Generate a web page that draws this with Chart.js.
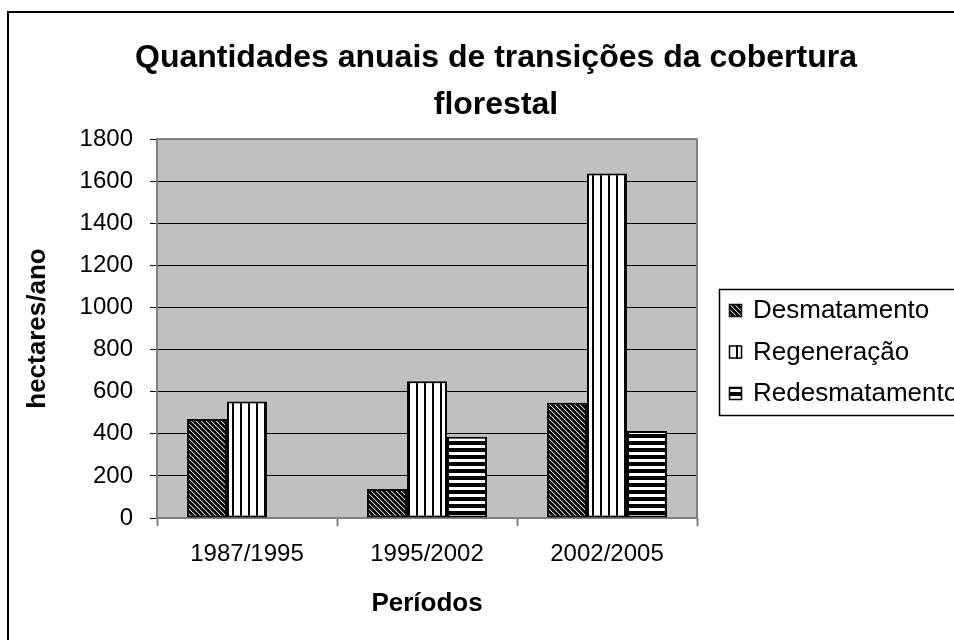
<!DOCTYPE html>
<html>
<head>
<meta charset="utf-8">
<script src="https://cdn.jsdelivr.net/npm/chart.js@4.4.1/dist/chart.umd.min.js"></script>
<style>
  html, body { margin: 0; padding: 0; overflow: hidden; background: #fff; }
  #frame { position: absolute; left: 7px; top: 11px; width: 1100px; height: 800px; border: 2px solid #000; }
  #chart { position: absolute; left: 0; top: 0; }
</style>
</head>
<body>
<div id="frame"></div>
<canvas id="chart" width="992" height="640"></canvas>
<script>
// data
const periodos = ["1987/1995", "1995/2002", "2002/2005"];
const desmatamento = [470, 138, 548];
const regeneracao = [553, 650, 1637];
const redesmatamento = [null, 386, 413];
const yMin = 0, yMax = 1800, yStep = 200;

Chart.defaults.font.family = '"Liberation Sans", Arial, sans-serif';

// pattern helper
function makePattern(w, h, draw) {
  const c = document.createElement("canvas");
  c.width = w;
  c.height = h;
  const g = c.getContext("2d");
  draw(g, w, h);
  return g.createPattern(c, "repeat");
}

// black with light "\" stripes
const hatchDiag = makePattern(5, 5, (g, w, h) => {
  g.fillStyle = "#000";
  g.fillRect(0, 0, w, h);
  for (let x = 0; x < w; x++) {
    for (let y = 0; y < h; y++) {
      const d = (x - y + 10) % 5;
      if (d === 0) { g.fillStyle = "#d8d8d8"; g.fillRect(x, y, 1, 1); }
      if (d === 1) { g.fillStyle = "#404040"; g.fillRect(x, y, 1, 1); }
    }
  }
});

// white with vertical black lines
const hatchVert = makePattern(8, 8, (g, w, h) => {
  g.fillStyle = "#fff";
  g.fillRect(0, 0, w, h);
  g.fillStyle = "#000";
  g.fillRect(0, 0, 2, h);
});

// white with horizontal black lines
const hatchHoriz = makePattern(7, 7, (g, w, h) => {
  g.fillStyle = "#fff";
  g.fillRect(0, 0, w, h);
  g.fillStyle = "#000";
  g.fillRect(0, 0, w, 4);
});

// gray plot background + gray frame
const plotArea = {
  id: "plotArea",
  beforeDraw(chart) {
    const a = chart.chartArea;
    const ctx = chart.ctx;
    ctx.save();
    ctx.fillStyle = "#c0c0c0";
    ctx.fillRect(a.left, a.top, a.right - a.left, a.bottom - a.top);
    ctx.restore();
  },
  beforeDatasetsDraw(chart) {
    const a = chart.chartArea;
    const ctx = chart.ctx;
    ctx.save();
    ctx.strokeStyle = "#808080";
    ctx.lineWidth = 2;
    ctx.strokeRect(a.left, a.top, a.right - a.left, a.bottom - a.top);
    ctx.restore();
  }
};

// Excel-like boxed legend on the right
const boxLegend = {
  id: "boxLegend",
  afterDraw(chart) {
    const ctx = chart.ctx;
    const x0 = 719, y0 = 289, rowH = 41.5;
    ctx.save();
    ctx.strokeStyle = "#000";
    ctx.lineWidth = 1.5;
    ctx.strokeRect(x0 + 0.5, y0 + 0.5, 400, 126);
    ctx.font = '26px "Liberation Sans", Arial, sans-serif';
    ctx.textBaseline = "middle";
    chart.data.datasets.forEach((ds, i) => {
      const y = y0 + 21 + i * rowH;
      ctx.fillStyle = ds.backgroundColor;
      ctx.fillRect(x0 + 10, y - 6, 13, 13);
      ctx.strokeStyle = "#000";
      ctx.lineWidth = 1.5;
      ctx.strokeRect(x0 + 10.5, y - 5.5, 12, 12);
      ctx.fillStyle = "#000";
      ctx.fillText(ds.label, x0 + 34, y + 1);
    });
    ctx.restore();
  }
};

const barStyle = {
  borderColor: "#000",
  borderWidth: 2,
  borderSkipped: false,
  categoryPercentage: 0.667,
  barPercentage: 1
};

new Chart(document.getElementById("chart"), {
  type: "bar",
  data: {
    labels: periodos,
    datasets: [
      { label: "Desmatamento", data: desmatamento, backgroundColor: hatchDiag, ...barStyle },
      { label: "Regeneração", data: regeneracao, backgroundColor: hatchVert, ...barStyle },
      { label: "Redesmatamento", data: redesmatamento, backgroundColor: hatchHoriz, ...barStyle }
    ]
  },
  options: {
    responsive: false,
    animation: false,
    plugins: {
      legend: { display: false },
      tooltip: { enabled: false },
      title: {
        display: true,
        text: ["Quantidades anuais de transições da cobertura", "florestal"],
        color: "#000",
        font: { size: 32, weight: "bold", lineHeight: 1.47 },
        padding: { top: 35, bottom: 10 }
      }
    },
    scales: {
      x: {
        grid: { offset: true, drawOnChartArea: false, tickLength: 8, tickColor: "#808080", tickWidth: 2 },
        border: { display: false },
        ticks: { color: "#000", font: { size: 24 }, padding: 14, maxRotation: 0 },
        title: { display: true, text: "Períodos", color: "#000", font: { size: 26, weight: "bold" }, padding: { bottom: 21 } },
        afterFit(s) { s.height = 122; }
      },
      y: {
        min: yMin,
        max: yMax,
        ticks: { stepSize: yStep, color: "#000", font: { size: 24 }, padding: 17, callback: v => String(v) },
        grid: { color: "#000", lineWidth: 1, tickLength: 7, tickColor: "#000" },
        border: { display: false },
        title: { display: true, text: "hectares/ano", color: "#000", font: { size: 26, weight: "bold" }, padding: { top: 22 } },
        afterFit(s) { s.width = 157; }
      },
      // empty right axis that reserves the legend space
      yRight: {
        position: "right",
        display: true,
        grid: { display: false },
        ticks: { display: false },
        border: { display: false },
        afterFit(s) { s.width = 295; }
      }
    }
  },
  plugins: [plotArea, boxLegend]
});
</script>
</body>
</html>
